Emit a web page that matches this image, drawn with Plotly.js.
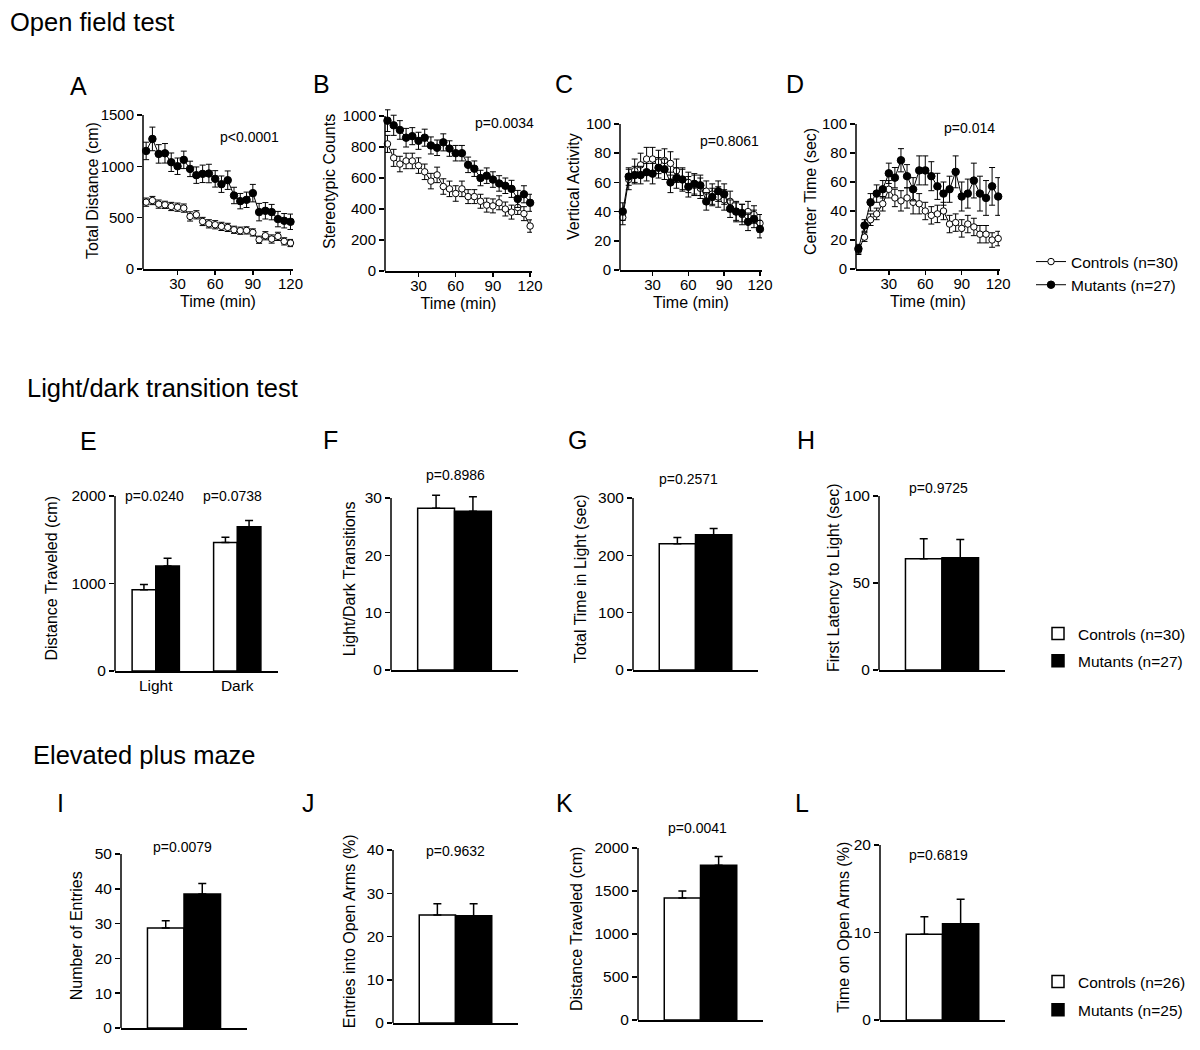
<!DOCTYPE html>
<html>
<head>
<meta charset="utf-8">
<script src="https://cdn.plot.ly/plotly-3.0.1.min.js"></script>
<style>html,body{margin:0;padding:0;background:#fff;}#chart{width:1200px;height:1050px;}</style>
</head>
<body>
<div id="chart"></div>
<script>
// ---------------- DATA ----------------
const timeMin = [5,10,15,20,25,30,35,40,45,50,55,60,65,70,75,80,85,90,95,100,105,110,115,120];

const A_ctrl     = [651,667,632,625,609,602,593,512,528,463,440,431,415,405,382,373,376,356,285,324,292,318,269,253];
const A_ctrl_err = [40,40,40,35,40,40,40,45,40,40,40,40,40,40,35,35,35,35,35,40,40,40,35,35];
const A_mut      = [1150,1267,1121,1127,1040,1001,1063,975,914,927,930,878,826,865,716,661,674,739,554,567,554,486,470,460];
const A_mut_err  = [85,115,90,95,90,80,85,75,80,85,90,80,80,90,80,75,75,85,85,80,75,75,70,75];

const B_ctrl     = [820,730,690,710,710,680,640,580,620,545,530,500,530,480,480,450,425,420,440,400,380,410,370,290];
const B_ctrl_err = [55,55,50,50,50,50,50,50,50,50,50,50,50,45,45,45,45,45,45,45,45,45,45,40];
const B_mut      = [970,940,910,860,870,840,860,810,795,830,790,760,760,685,660,600,615,590,565,550,530,465,495,440];
const B_mut_err  = [70,65,60,60,55,55,55,55,50,55,50,50,50,50,50,50,50,50,50,50,55,55,55,55];

const C_ctrl     = [36,62,68,72,76,76,74,75,73,68,62,60,58,56,54,52,50,48,47,40,38,40,38,32];
const C_ctrl_err = [5,7,8,8,8,8,8,8,8,8,8,7,7,7,7,7,7,7,7,7,7,7,6,6];
const C_mut      = [40,64,65,65,67,66,70,69,60,63,62,57,59,58,47,50,54,52,42,40,39,33,35,28];
const C_mut_err  = [6,6,6,6,6,7,7,7,7,7,7,7,7,7,6,6,7,7,6,6,6,6,6,6];

const D_ctrl     = [13,22,34,38,45,55,49,47,49,46,45,40,37,38,40,31,32,28,31,29,24,24,20,21];
const D_ctrl_err = [3,3,4,4,5,6,6,7,7,8,7,6,6,6,6,6,6,6,6,6,6,6,5,5];
const D_mut      = [14,30,46,52,55,66,63,75,64,55,68,68,64,57,52,55,67,50,52,61,52,49,57,50];
const D_mut_err  = [3,4,6,6,6,7,7,8,8,8,10,10,10,9,8,9,11,10,10,12,12,12,13,13];

const E_cats     = ['Light','Dark'];
const E_ctrl     = [930,1470];   const E_ctrl_err = [60,60];
const E_mut      = [1200,1650];  const E_mut_err  = [90,70];
const F_ctrl = [28.2]; const F_ctrl_err = [2.3]; const F_mut = [27.7]; const F_mut_err = [2.5];
const G_ctrl = [220];  const G_ctrl_err = [11];  const G_mut = [236];  const G_mut_err = [11];
const H_ctrl = [64];   const H_ctrl_err = [11.5];const H_mut = [64.5]; const H_mut_err = [10.5];
const I_ctrl = [28.7]; const I_ctrl_err = [2.1]; const I_mut = [38.5]; const I_mut_err = [3];
const J_ctrl = [25];   const J_ctrl_err = [2.6]; const J_mut = [24.8]; const J_mut_err = [2.8];
const K_ctrl = [1420]; const K_ctrl_err = [80];  const K_mut = [1800]; const K_mut_err = [100];
const L_ctrl = [9.8];  const L_ctrl_err = [2];   const L_mut = [11];   const L_mut_err = [2.8];

const legendLine = ['Controls (n=30)','Mutants (n=27)'];
const legendLD   = ['Controls (n=30)','Mutants (n=27)'];
const legendEPM  = ['Controls (n=26)','Mutants (n=25)'];

const pValues = {A:'p<0.0001',B:'p=0.0034',C:'p=0.8061',D:'p=0.014',E1:'p=0.0240',E2:'p=0.0738',
  F:'p=0.8986',G:'p=0.2571',H:'p=0.9725',I:'p=0.0079',J:'p=0.9632',K:'p=0.0041',L:'p=0.6819'};

const yTitles = {A:'Total Distance (cm)',B:'Stereotypic Counts',C:'Vertical Activity',D:'Center Time (sec)',
  E:'Distance Traveled (cm)',F:'Light/Dark Transitions',G:'Total Time in Light (sec)',H:'First Latency to Light (sec)',
  I:'Number of Entries',J:'Entries into Open Arms (%)',K:'Distance Traveled (cm)',L:'Time on Open Arms (%)'};

const xTickVals = [30,60,90,120];

// ---------------- LAYOUT HELPERS ----------------
const W = 1200, H = 1050;
const FONT = 'Liberation Sans, Arial, Helvetica, sans-serif';
const px = v => v / W;
const py = v => 1 - v / H;
const EXT = 1.06;

// panel geometry in pixels: left, right, y of zero, y of top tick, top tick, dtick, title standoff
const geo = {
  A:{l:143,r:293,b:269,t:115,top:1500,dt:500,xr:[2.5,122]},
  B:{l:385,r:532,b:271,t:116,top:1000,dt:200,xr:[3,121.5]},
  C:{l:620,r:762,b:270,t:124,top:100,dt:20,xr:[2.7,121.7]},
  D:{l:856,r:1000,b:269,t:124,top:100,dt:20,xr:[3,121.5]},
  E:{l:115,r:278,b:671,t:496,top:2000,dt:1000,so:9},
  F:{l:391,r:518,b:670,t:498,top:30,dt:10,so:5},
  G:{l:633,r:758,b:670,t:498,top:300,dt:100,so:7},
  H:{l:879,r:1005,b:670,t:496,top:100,dt:50,so:0},
  I:{l:121,r:247,b:1028,t:854,top:50,dt:10,so:8},
  J:{l:393,r:518,b:1023,t:850,top:40,dt:10,so:7},
  K:{l:638,r:763,b:1020,t:848,top:2000,dt:500,so:7},
  L:{l:880,r:1005,b:1020,t:845,top:20,dt:10,so:0}
};
// row-1 y-title centres (pixels)
const lineTitlePos = {A:[92,191],B:[329,182],C:[573,187],D:[811,192]};
const panels = ['A','B','C','D','E','F','G','H','I','J','K','L'];

const layout = {
  width:W, height:H, margin:{l:0,r:0,t:0,b:0},
  paper_bgcolor:'white', plot_bgcolor:'rgba(0,0,0,0)',
  font:{family:FONT, color:'black', size:16},
  barmode:'group', bargap:0.42, bargroupgap:0,
  shapes:[], annotations:[]
};

const traces = [];

panels.forEach((p, i) => {
  const n = i + 1;
  const sx = n === 1 ? '' : String(n);
  const g = geo[p];
  const yTopPx = g.b - (g.b - g.t) * EXT;
  const isLine = i < 4;
  const tf = isLine ? 15 : 15.5;
  const xa = {
    domain:[px(g.l), px(g.r)], anchor:'y'+sx,
    showline:true, linecolor:'black', linewidth:1.5, showgrid:false, zeroline:false,
    tickfont:{size:tf, family:FONT}, fixedrange:true
  };
  if (isLine) {
    Object.assign(xa, {range:g.xr, tickvals:xTickVals, ticks:'outside', ticklen:4, tickwidth:1.5, tickcolor:'black',
      ticklabelstandoff:-4, title:{text:'Time (min)', font:{size:16}, standoff:5}});
  } else {
    Object.assign(xa, {type:'category', range: p==='E' ? [-0.5,1.5] : [-0.5,0.5], ticks:'',
      showticklabels: p==='E'});
  }
  const ya = {
    domain:[py(g.b), py(yTopPx)], anchor:'x'+sx, range:[0, g.top*EXT],
    tickmode:'linear', tick0:0, dtick:g.dt,
    showline:false, showgrid:false, zeroline:false,
    ticks:'outside', ticklen:5, tickwidth:1.5, tickcolor:'black',
    tickfont:{size:tf, family:FONT}, fixedrange:true
  };
  if (!isLine) ya.title = {text:yTitles[p], font:{size:16}, standoff:g.so};
  layout['xaxis'+sx] = xa;
  layout['yaxis'+sx] = ya;
  // y axis line stopping at the top tick
  layout.shapes.push({type:'line', xref:'x'+sx+' domain', yref:'y'+sx, x0:0, x1:0, y0:0, y1:g.top,
    line:{color:'black', width:1.5}});
});

// ---------------- TRACES ----------------
const lineSets = {
  A:[A_ctrl,A_ctrl_err,A_mut,A_mut_err], B:[B_ctrl,B_ctrl_err,B_mut,B_mut_err],
  C:[C_ctrl,C_ctrl_err,C_mut,C_mut_err], D:[D_ctrl,D_ctrl_err,D_mut,D_mut_err]
};
['A','B','C','D'].forEach((p, i) => {
  const sx = i === 0 ? '' : String(i+1);
  const [c, ce, m, me] = lineSets[p];
  traces.push({type:'scatter', mode:'lines+markers', x:timeMin, y:c, xaxis:'x'+sx, yaxis:'y'+sx,
    name:legendLine[0], legend:'legend', legendgroup:'lc', showlegend:i===0, cliponaxis:false,
    line:{color:'black', width:1}, marker:{symbol:'circle', size:6.5, color:'white', line:{color:'black', width:1}},
    error_y:{type:'data', array:ce, color:'black', thickness:1, width:3}});
  traces.push({type:'scatter', mode:'lines+markers', x:timeMin, y:m, xaxis:'x'+sx, yaxis:'y'+sx,
    name:legendLine[1], legend:'legend', legendgroup:'lm', showlegend:i===0, cliponaxis:false,
    line:{color:'black', width:1}, marker:{symbol:'circle', size:7.5, color:'black', line:{color:'black', width:1}},
    error_y:{type:'data', array:me, color:'black', thickness:1, width:3}});
});

const barSets = {
  E:[E_cats,E_ctrl,E_ctrl_err,E_mut,E_mut_err],
  F:[['F'],F_ctrl,F_ctrl_err,F_mut,F_mut_err], G:[['G'],G_ctrl,G_ctrl_err,G_mut,G_mut_err],
  H:[['H'],H_ctrl,H_ctrl_err,H_mut,H_mut_err], I:[['I'],I_ctrl,I_ctrl_err,I_mut,I_mut_err],
  J:[['J'],J_ctrl,J_ctrl_err,J_mut,J_mut_err], K:[['K'],K_ctrl,K_ctrl_err,K_mut,K_mut_err],
  L:[['L'],L_ctrl,L_ctrl_err,L_mut,L_mut_err]
};
['E','F','G','H','I','J','K','L'].forEach((p, k) => {
  const n = k + 5;
  const sx = String(n);
  const [cats, c, ce, m, me] = barSets[p];
  const legName = p === 'I' ? 'legend3' : 'legend2';
  const names = p === 'I' ? legendEPM : legendLD;
  const show = (p === 'E' || p === 'I');
  traces.push({type:'bar', x:cats, y:c, xaxis:'x'+sx, yaxis:'y'+sx, name:names[0], legend:legName,
    legendgroup:legName+'c', showlegend:show,
    marker:{color:'white', line:{color:'black', width:1.5}},
    error_y:{type:'data', symmetric:false, array:ce, arrayminus:ce.map(() => 0), color:'black', thickness:1.5, width:4}});
  traces.push({type:'bar', x:cats, y:m, xaxis:'x'+sx, yaxis:'y'+sx, name:names[1], legend:legName,
    legendgroup:legName+'m', showlegend:show,
    marker:{color:'black', line:{color:'black', width:1.5}},
    error_y:{type:'data', symmetric:false, array:me, arrayminus:me.map(() => 0), color:'black', thickness:1.5, width:4}});
});

// ---------------- LEGENDS ----------------
const legBase = {xanchor:'left', yanchor:'top', bgcolor:'rgba(0,0,0,0)', font:{size:15.5, family:FONT},
  traceorder:'grouped', itemclick:false, itemdoubleclick:false};
layout.legend  = Object.assign({}, legBase, {x:px(1031), y:py(245), tracegroupgap:0});
layout.legend2 = Object.assign({}, legBase, {x:px(1038), y:py(617), tracegroupgap:4});
layout.legend3 = Object.assign({}, legBase, {x:px(1038), y:py(965), tracegroupgap:5});

// ---------------- TEXT ----------------
function ann(text, x, y, size, anchor, angle) {
  layout.annotations.push({text:text, xref:'paper', yref:'paper', x:px(x), y:py(y), showarrow:false,
    xanchor:anchor || 'center', yanchor:'middle', textangle:angle || 0,
    font:{size:size, family:FONT, color:'black'}});
}
['A','B','C','D'].forEach(p => ann(yTitles[p], lineTitlePos[p][0], lineTitlePos[p][1], 16, 'center', -90));
ann('Open field test', 8, 22, 25.5, 'left');
ann('Light/dark transition test', 25, 388, 25.5, 'left');
ann('Elevated plus maze', 31, 755, 25.5, 'left');
const letters = {A:[68,86],B:[311,84],C:[553,84],D:[784,84],E:[78,441],F:[321,440],G:[566,440],H:[795,440],
  I:[55,803],J:[300,803],K:[554,803],L:[793,803]};
Object.keys(letters).forEach(k => ann(k, letters[k][0], letters[k][1], 25, 'left'));
const pPos = {A:[249,137],B:[504,123],C:[730,141],D:[969,128],E1:[154,496],E2:[233,496],F:[455,475],G:[688,479],
  H:[938,488],I:[182,847],J:[455,851],K:[697,828],L:[938,855]};
Object.keys(pPos).forEach(k => ann(pValues[k], pPos[k][0], pPos[k][1], 14, 'center'));

Plotly.newPlot('chart', traces, layout, {staticPlot:true, displayModeBar:false});
</script>
</body>
</html>
